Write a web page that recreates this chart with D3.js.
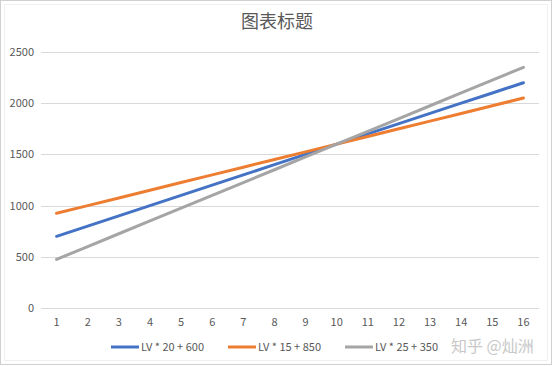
<!DOCTYPE html>
<html>
<head>
<meta charset="utf-8">
<script src="https://cdn.jsdelivr.net/npm/d3@7"></script>
<style>
  body { margin: 0; background: #fff; }
  text { font-family: "Noto Sans CJK SC", "Noto Sans", sans-serif; }
</style>
</head>
<body>
<div id="chart"></div>
<script>
const width = 554;
const height = 366;

const levels = d3.range(1, 17);
const yTicks = [0, 500, 1000, 1500, 2000, 2500];
const seriesNames = ['LV * 20 + 600', 'LV * 15 + 850', 'LV * 25 + 350'];
const seriesColors = ['#4472C4', '#ED7D31', '#A5A5A5'];
const blue = [700, 800, 900, 1000, 1100, 1200, 1300, 1400, 1500, 1600, 1700, 1800, 1900, 2000, 2100, 2200];
const orange = [925, 1000, 1075, 1150, 1225, 1300, 1375, 1450, 1525, 1600, 1675, 1750, 1825, 1900, 1975, 2050];
const gray = [475, 600, 725, 850, 975, 1100, 1225, 1350, 1475, 1600, 1725, 1850, 1975, 2100, 2225, 2350];
const seriesValues = [blue, orange, gray];

const svg = d3.select('#chart')
    .append('svg')
    .attr('width', width)
    .attr('height', height);

// frame
svg.append('rect')
    .attr('x', 0.5).attr('y', 0.5)
    .attr('width', width - 3).attr('height', height - 2)
    .style('fill', '#fff')
    .style('stroke', '#d0d0d0');
svg.append('rect')
    .attr('x', 4.5).attr('y', 4.5)
    .attr('width', width - 11).attr('height', height - 10)
    .style('fill', 'none')
    .style('stroke', '#f0f0f0');

const x = d3.scaleBand().domain(levels).range([41, 539]);
const y = d3.scaleLinear().domain([0, 2500]).range([308, 52]);

// title
svg.append('text')
    .attr('x', 277).attr('y', 28)
    .attr('text-anchor', 'middle')
    .style('font-size', '18px')
    .style('fill', '#595959')
    .text('图表标题');

// gridlines
svg.append('g')
    .selectAll('line')
    .data(yTicks)
    .join('line')
    .attr('x1', 41).attr('x2', 539)
    .attr('y1', d => Math.round(y(d)) + 0.5)
    .attr('y2', d => Math.round(y(d)) + 0.5)
    .style('stroke', '#d9d9d9');

// y labels
svg.append('g')
    .selectAll('text')
    .data(yTicks)
    .join('text')
    .attr('x', 34)
    .attr('y', d => y(d) + 4)
    .attr('text-anchor', 'end')
    .style('font-size', '11px')
    .style('fill', '#595959')
    .text(d => d);

// x labels
svg.append('g')
    .selectAll('text')
    .data(levels)
    .join('text')
    .attr('x', d => x(d) + x.bandwidth() / 2)
    .attr('y', 326)
    .attr('text-anchor', 'middle')
    .style('font-size', '11px')
    .style('fill', '#595959')
    .text(d => d);

// lines
const line = d3.line()
    .x((d, i) => x(levels[i]) + x.bandwidth() / 2)
    .y(d => y(d));

svg.append('g')
    .selectAll('path')
    .data(seriesValues)
    .join('path')
    .attr('d', line)
    .style('fill', 'none')
    .style('stroke', (d, i) => seriesColors[i])
    .style('stroke-width', 3)
    .style('stroke-linecap', 'round');

// legend
const legendX = [111, 228, 345];
const legend = svg.append('g')
    .selectAll('g')
    .data(seriesNames)
    .join('g')
    .attr('transform', (d, i) => `translate(${legendX[i]},347)`);
legend.append('line')
    .attr('x1', 0).attr('x2', 28)
    .style('stroke', (d, i) => seriesColors[i])
    .style('stroke-width', 3);
legend.append('text')
    .attr('x', 30).attr('y', 4)
    .style('font-size', '11px')
    .style('fill', '#595959')
    .text(d => d);

// watermark
svg.append('text')
    .attr('x', 451).attr('y', 352)
    .style('font-size', '16px')
    .style('fill', '#c8c8c8')
    .text('知乎 @灿洲');
</script>
</body>
</html>
